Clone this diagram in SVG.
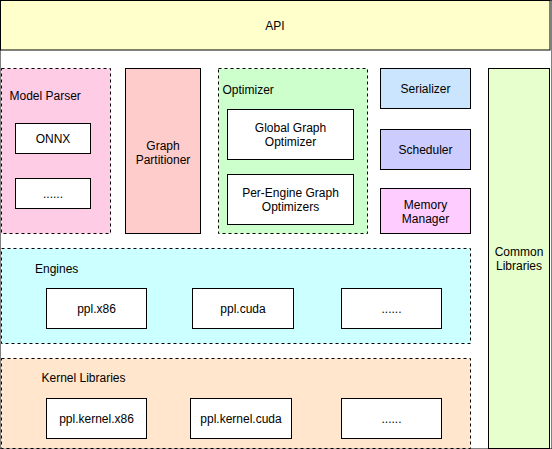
<svg xmlns="http://www.w3.org/2000/svg" width="552" height="449" viewBox="0 0 552 449">
<style>
  rect { stroke: #000; stroke-width: 1; }
  .dash { stroke-dasharray: 3 3; }
  .w { fill: #fff; }
  text { font-family: "Liberation Sans", Arial, sans-serif; font-size: 12px; fill: #000; }
  .c { text-anchor: middle; }
</style>
<rect x="0" y="0" width="552" height="449" fill="#fff" stroke="none"/>
<g id="api">
  <rect x="0.5" y="0.5" width="549.5" height="49.5" fill="#FFFFCC"/>
  <text class="c" x="275" y="29.5">API</text>
</g>
<g id="model-parser">
  <rect class="dash" x="1.5" y="68.5" width="109" height="165" fill="#FFCCE6"/>
  <text x="9.5" y="100">Model Parser</text>
</g>
<g id="onnx">
  <rect class="w" x="15.5" y="123.5" width="75" height="30"/>
  <text class="c" x="53" y="142.5">ONNX</text>
</g>
<g id="parser-more">
  <rect class="w" x="15.5" y="178.5" width="75" height="30"/>
  <text class="c" x="53" y="197.5">......</text>
</g>
<g id="graph-partitioner">
  <rect x="125.5" y="68.5" width="75" height="165" fill="#FFCCCC"/>
  <text class="c" x="163" y="149.5">Graph</text>
  <text class="c" x="163" y="163.5">Partitioner</text>
</g>
<g id="optimizer">
  <rect class="dash" x="218.5" y="68.5" width="149" height="165" fill="#CCFFCC"/>
  <text x="222.5" y="93.5">Optimizer</text>
</g>
<g id="global-graph-optimizer">
  <rect class="w" x="227.5" y="109.5" width="126" height="50"/>
  <text class="c" x="290.5" y="131.5">Global Graph</text>
  <text class="c" x="290.5" y="145.5">Optimizer</text>
</g>
<g id="per-engine-optimizers">
  <rect class="w" x="227.5" y="174.5" width="126" height="50"/>
  <text class="c" x="290.5" y="196.5">Per-Engine Graph</text>
  <text class="c" x="290.5" y="210.5">Optimizers</text>
</g>
<g id="serializer">
  <rect x="380.5" y="68.5" width="90" height="40" fill="#CCE5FF"/>
  <text class="c" x="425.5" y="93">Serializer</text>
</g>
<g id="scheduler">
  <rect x="380.5" y="129.5" width="90" height="40" fill="#CCCCFF"/>
  <text class="c" x="425.5" y="154">Scheduler</text>
</g>
<g id="memory-manager">
  <rect x="380.5" y="188.5" width="90" height="45" fill="#FFCCFF"/>
  <text class="c" x="425.5" y="208.5">Memory</text>
  <text class="c" x="425.5" y="222.5">Manager</text>
</g>
<g id="common-libraries">
  <rect x="488.5" y="68.5" width="61" height="380" fill="#E6FFCC"/>
  <text class="c" x="519" y="255.5">Common</text>
  <text class="c" x="519" y="269.5">Libraries</text>
</g>
<g id="engines">
  <rect class="dash" x="1.5" y="248.5" width="469" height="95" fill="#CCFFFF"/>
  <text x="35" y="273">Engines</text>
</g>
<g id="ppl-x86">
  <rect class="w" x="46.5" y="288.5" width="100" height="40"/>
  <text class="c" x="96.5" y="312.5">ppl.x86</text>
</g>
<g id="ppl-cuda">
  <rect class="w" x="192.5" y="288.5" width="101" height="40"/>
  <text class="c" x="243" y="312.5">ppl.cuda</text>
</g>
<g id="engines-more">
  <rect class="w" x="341.5" y="288.5" width="100" height="40"/>
  <text class="c" x="391.5" y="312.5">......</text>
</g>
<g id="kernel-libraries">
  <rect class="dash" x="1.5" y="358.5" width="469" height="90" fill="#FFE6CC"/>
  <text x="41.5" y="382">Kernel Libraries</text>
</g>
<g id="ppl-kernel-x86">
  <rect class="w" x="46.5" y="398.5" width="100" height="40"/>
  <text class="c" x="96.5" y="422.5">ppl.kernel.x86</text>
</g>
<g id="ppl-kernel-cuda">
  <rect class="w" x="190.5" y="398.5" width="101" height="40"/>
  <text class="c" x="241" y="422.5">ppl.kernel.cuda</text>
</g>
<g id="kernel-more">
  <rect class="w" x="341.5" y="398.5" width="100" height="40"/>
  <text class="c" x="391.5" y="422.5">......</text>
</g>
<g id="connectors"></g>
</svg>
